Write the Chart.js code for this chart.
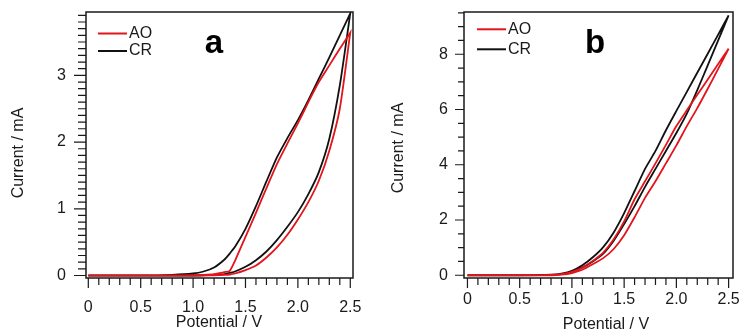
<!DOCTYPE html>
<html>
<head>
<meta charset="utf-8">
<script src="https://cdn.jsdelivr.net/npm/chart.js@4.4.1/dist/chart.umd.min.js"></script>
<style>
  body { margin: 0; background: #fff; }
  .panel { position: absolute; top: 0; width: 371px; height: 335px; }
</style>
</head>
<body>
<div class="panel" style="left:0"><canvas id="chartA" width="371" height="335"></canvas></div>
<div class="panel" style="left:371px"><canvas id="chartB" width="371" height="335"></canvas></div>
<script>
// Panel a: potential grid (V) and current (mA) of the forward and reverse scans
const potentialA = [0, 0.5, 0.8, 1.0, 1.1, 1.2, 1.3, 1.35, 1.4, 1.5, 1.6, 1.7, 1.8, 1.9, 2.0, 2.1, 2.2, 2.3, 2.4, 2.5];
const aoForwardA = [0, 0, 0, 0, 0, 0.003, 0.01, 0.015, 0.03, 0.08, 0.15, 0.27, 0.42, 0.61, 0.84, 1.1, 1.42, 1.87, 2.5, 3.64];
const aoReverseA = [0, 0, 0, 0.005, 0.01, 0.02, 0.05, 0.07, 0.22, 0.58, 0.94, 1.31, 1.67, 1.98, 2.28, 2.6, 2.9, 3.15, 3.4, 3.64];
const crForwardA = [0, 0, 0, 0, 0.005, 0.01, 0.02, 0.04, 0.06, 0.13, 0.23, 0.36, 0.53, 0.73, 0.95, 1.22, 1.55, 2.05, 2.85, 3.93];
const crReverseA = [0, 0, 0.01, 0.03, 0.06, 0.12, 0.24, 0.33, 0.43, 0.7, 1.04, 1.41, 1.77, 2.06, 2.33, 2.63, 2.95, 3.27, 3.6, 3.93];

// Panel b
const potentialB = [0, 0.5, 0.8, 0.9, 1.0, 1.1, 1.2, 1.3, 1.4, 1.5, 1.6, 1.7, 1.8, 1.9, 2.0, 2.1, 2.2, 2.3, 2.4, 2.5];
const aoForwardB = [0, 0, 0, 0.02, 0.08, 0.2, 0.4, 0.62, 0.95, 1.45, 2.1, 2.8, 3.4, 4.05, 4.7, 5.4, 6.05, 6.75, 7.47, 8.2];
const aoReverseB = [0, 0, 0.01, 0.04, 0.12, 0.28, 0.52, 0.82, 1.3, 1.95, 2.75, 3.4, 4.05, 4.72, 5.4, 5.97, 6.53, 7.09, 7.65, 8.2];
const crForwardB = [0, 0, 0.01, 0.04, 0.12, 0.28, 0.5, 0.78, 1.25, 1.85, 2.5, 3.2, 3.85, 4.5, 5.15, 5.85, 6.7, 7.6, 8.5, 9.41];
const crReverseB = [0, 0, 0.02, 0.06, 0.16, 0.36, 0.65, 1.02, 1.55, 2.25, 3.05, 3.85, 4.5, 5.25, 5.95, 6.64, 7.33, 8.02, 8.71, 9.41];

const seriesNames = ['AO', 'CR'];
const seriesColors = ['#e3141b', '#111111'];

const xTickValues = [0, 0.5, 1.0, 1.5, 2.0, 2.5];
const xTickLabels = ['0', '0.5', '1.0', '1.5', '2.0', '2.5'];
const yTickValuesA = [0, 1, 2, 3];
const yTickLabelsA = ['0', '1', '2', '3'];
const yTickValuesB = [0, 2, 4, 6, 8];
const yTickLabelsB = ['0', '2', '4', '6', '8'];

const FONT = '"Liberation Sans", Arial, sans-serif';
Chart.defaults.font.family = FONT;
Chart.defaults.color = '#1a1a1a';

// forward scan up to 2.5 V, then back down on the reverse branch
function loop(pot, fwd, rev) {
    const up = pot.map((v, i) => ({ x: v, y: fwd[i] }));
    const down = pot.map((v, i) => ({ x: v, y: rev[i] })).reverse();
    return up.concat(down);
}

// box frame, outward tick marks, legend, letters and axis titles
const framePlugin = {
    id: 'frame',
    afterDraw(chart, args, o) {
        const { ctx, chartArea: area } = chart;
        const xs = chart.scales.x, ys = chart.scales.y;
        ctx.save();
        ctx.strokeStyle = '#1a1a1a';
        ctx.lineWidth = 1.5;
        ctx.strokeRect(area.left, area.top, area.width, area.height);

        ctx.lineWidth = 1.2;
        ctx.beginPath();
        for (let i = 0; i <= 25; i++) {
            const px = xs.getPixelForValue(i / 10);
            const len = i % 5 === 0 ? o.xMajor : o.xMinor;
            ctx.moveTo(px, area.bottom);
            ctx.lineTo(px, area.bottom + len);
        }
        for (let n = 0; n <= o.yCount; n++) {
            const py = ys.getPixelForValue(n * o.yStep);
            const len = n % o.yEvery === 0 ? o.yMajor : o.yMinor;
            ctx.moveTo(area.left, py);
            ctx.lineTo(area.left - len, py);
        }
        ctx.stroke();

        // legend
        ctx.font = '16px ' + FONT;
        ctx.textBaseline = 'middle';
        ctx.textAlign = 'left';
        chart.data.datasets.forEach((ds, i) => {
            const y = o.legend.y + i * o.legend.dy;
            ctx.strokeStyle = ds.borderColor;
            ctx.lineWidth = 2;
            ctx.beginPath();
            ctx.moveTo(o.legend.x, y);
            ctx.lineTo(o.legend.x + o.legend.len, y);
            ctx.stroke();
            ctx.fillStyle = '#1a1a1a';
            ctx.fillText(ds.label, o.legend.x + o.legend.len + 2, y);
        });

        // panel letter
        ctx.font = 'bold 33px ' + FONT;
        ctx.textAlign = 'center';
        ctx.textBaseline = 'alphabetic';
        ctx.fillStyle = '#000';
        ctx.fillText(o.letter.text, o.letter.x, o.letter.y);

        // axis titles
        ctx.font = '16px ' + FONT;
        ctx.fillStyle = '#1a1a1a';
        ctx.textBaseline = 'middle';
        ctx.fillText(o.xTitle.text, o.xTitle.x, o.xTitle.y);
        ctx.translate(o.yTitle.x, o.yTitle.y);
        ctx.rotate(-Math.PI / 2);
        ctx.fillText(o.yTitle.text, 0, 0);
        ctx.restore();
    }
};

function buildChart(id, pot, ao, cr, s) {
    return new Chart(document.getElementById(id), {
        type: 'scatter',
        data: {
            datasets: [
                { label: seriesNames[0], data: loop(pot, ao[0], ao[1]), borderColor: seriesColors[0] },
                { label: seriesNames[1], data: loop(pot, cr[0], cr[1]), borderColor: seriesColors[1] }
            ]
        },
        options: {
            responsive: false,
            animation: false,
            events: [],
            layout: { padding: s.padding },
            elements: {
                point: { radius: 0 },
                line: { tension: 0.2, borderWidth: 1.8, fill: false }
            },
            datasets: { scatter: { showLine: true } },
            plugins: {
                legend: { display: false },
                tooltip: { enabled: false },
                frame: s.frame
            },
            scales: {
                x: {
                    type: 'linear',
                    min: s.xMin,
                    max: s.xMax,
                    grid: { display: false },
                    border: { display: false },
                    afterBuildTicks: sc => { sc.ticks = xTickValues.map(v => ({ value: v })); },
                    afterFit: sc => { sc.height = 57; sc.paddingLeft = 0; sc.paddingRight = 0; },
                    ticks: {
                        autoSkip: false,
                        maxRotation: 0,
                        padding: s.xPad,
                        font: { size: 16 },
                        callback: (v, i) => xTickLabels[i]
                    }
                },
                y: {
                    type: 'linear',
                    min: s.yMin,
                    max: s.yMax,
                    grid: { display: false },
                    border: { display: false },
                    afterBuildTicks: sc => { sc.ticks = s.yTicks.map(v => ({ value: v })); },
                    afterFit: sc => { sc.width = s.yWidth; sc.paddingTop = 0; sc.paddingBottom = 0; },
                    ticks: {
                        autoSkip: false,
                        padding: s.yPad,
                        font: { size: 16 },
                        callback: (v, i) => s.yLabels[i]
                    }
                }
            }
        },
        plugins: [framePlugin]
    });
}

buildChart('chartA', potentialA, [aoForwardA, aoReverseA], [crForwardA, crReverseA], {
    padding: { left: 0, right: 18, top: 12, bottom: 0 },
    xMin: -0.022, xMax: 2.526, yMin: -0.0375, yMax: 3.95,
    yWidth: 86, xPad: 12, yPad: 12,
    yTicks: yTickValuesA, yLabels: yTickLabelsA,
    frame: {
        xMajor: 10, xMinor: 7, yMajor: 12, yMinor: 8,
        yStep: 0.1, yCount: 39, yEvery: 10,
        legend: { x: 98, y: 33.5, dy: 17.5, len: 29 },
        letter: { text: 'a', x: 214, y: 53 },
        xTitle: { text: 'Potential / V', x: 219, y: 323 },
        yTitle: { text: 'Current / mA', x: 19, y: 153 }
    }
});

buildChart('chartB', potentialB, [aoForwardB, aoReverseB], [crForwardB, crReverseB], {
    padding: { left: 0, right: 9, top: 12, bottom: 0 },
    xMin: -0.033, xMax: 2.542, yMin: -0.1, yMax: 9.53,
    yWidth: 93, xPad: 4, yPad: 8,
    yTicks: yTickValuesB, yLabels: yTickLabelsB,
    frame: {
        xMajor: 10, xMinor: 7, yMajor: 9, yMinor: 6,
        yStep: 0.5, yCount: 19, yEvery: 4,
        legend: { x: 106, y: 29.3, dy: 20, len: 29 },
        letter: { text: 'b', x: 224, y: 53 },
        xTitle: { text: 'Potential / V', x: 235, y: 325 },
        yTitle: { text: 'Current / mA', x: 28, y: 148 }
    }
});
</script>
</body>
</html>
